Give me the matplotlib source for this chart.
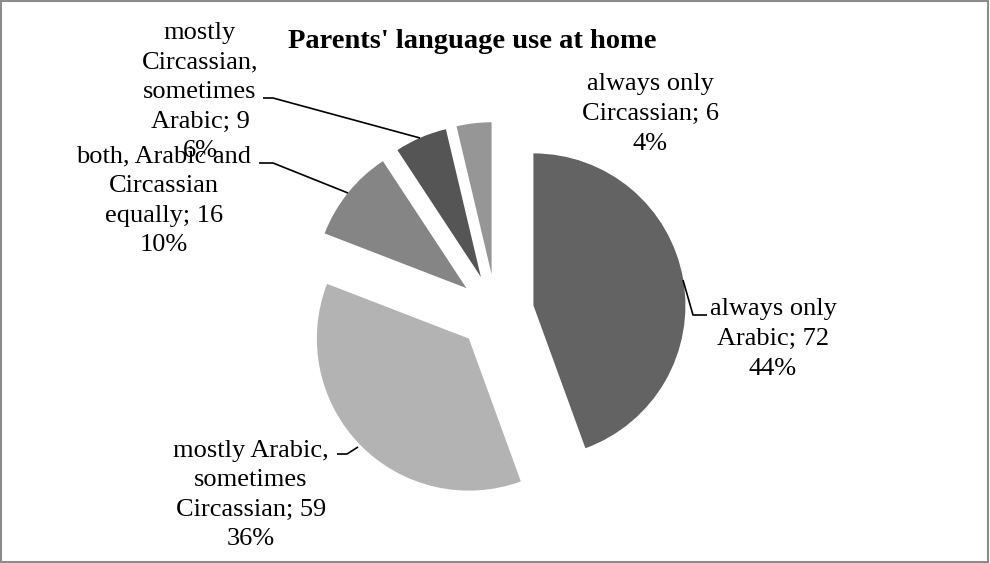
import matplotlib.pyplot as plt
from matplotlib.patches import Rectangle

W, H = 990, 563

categories = [
    "always only\nArabic",
    "mostly Arabic,\nsometimes\nCircassian",
    "both, Arabic and\nCircassian\nequally",
    "mostly\nCircassian,\nsometimes\nArabic",
    "always only\nCircassian",
]
counts = [72, 59, 16, 9, 6]
colors = ["#636363", "#b3b3b3", "#858585", "#555555", "#969696"]

# label block centres and leader polylines, in pixel coords from the top-left
label_pos = [(773, 339), (251, 495), (164, 201), (200, 92), (650, 114)]
leaders = [
    [(683, 280), (693, 315), (707, 315)],
    [(358, 447), (347, 454), (337, 454)],
    [(348, 193), (273, 163), (259, 163)],
    [(420, 138), (273, 98), (263, 98)],
    None,
]

plt.rcParams["font.family"] = ["Liberation Serif", "DejaVu Serif"]

fig = plt.figure(figsize=(W / 100, H / 100), dpi=100)
ax = fig.add_axes([0, 0, 1, 1])

# explode is in data units here (pixels), not a fraction of the radius
ax.pie(
    counts,
    colors=colors,
    explode=[38] * len(counts),
    startangle=90,
    counterclock=False,
    center=(496, H - 312),
    radius=152,
    wedgeprops=dict(linewidth=0),
)
ax.set_xlim(0, W)
ax.set_ylim(0, H)
ax.set_aspect("equal")
ax.axis("off")

total = sum(counts)
for name, n, (x, y), path in zip(categories, counts, label_pos, leaders):
    ax.text(x, H - y, f"{name}; {n}\n{round(100 * n / total)}%",
            ha="center", va="center", fontsize=19, linespacing=1.45,
            color="black")
    if path:
        ax.plot([p[0] for p in path], [H - p[1] for p in path],
                color="black", linewidth=1.2, solid_capstyle="butt")

ax.text(472, H - 42, "Parents' language use at home", ha="center",
        va="center", fontsize=20.5, fontweight="bold")

fig.patches.append(Rectangle((1 / W, 1 / H), 987 / W, 561 / H,
                             transform=fig.transFigure, fill=False,
                             edgecolor="#8c8c8c", linewidth=1.5))

fig.savefig("out.png", dpi=100)
